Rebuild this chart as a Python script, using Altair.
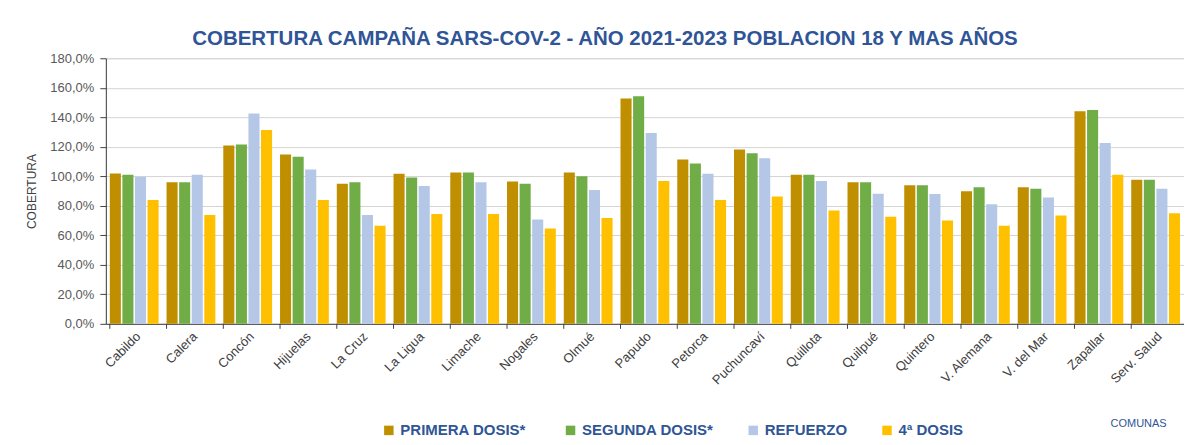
import altair as alt
import pandas as pd

comunas = ["Cabildo", "Calera", "Concón", "Hijuelas", "La Cruz", "La Ligua", "Limache",
           "Nogales", "Olmué", "Papudo", "Petorca", "Puchuncaví", "Quillota", "Quilpué",
           "Quintero", "V. Alemana", "V. del Mar", "Zapallar", "Serv. Salud"]
series = ["PRIMERA  DOSIS*", "SEGUNDA DOSIS*", "REFUERZO", "4ª DOSIS"]
colors = ["#BF8F00", "#70AD47", "#B4C7E7", "#FFC000"]

primera = [101.9, 95.9, 120.9, 114.8, 95.0, 101.7, 102.6, 96.5, 102.6, 152.7, 111.4, 118.1,
           101.0, 95.9, 94.0, 89.8, 92.5, 144.1, 97.6]
segunda = [101.0, 95.9, 121.6, 113.2, 95.9, 99.2, 102.6, 95.0, 100.1, 154.3, 108.7, 115.7,
           101.0, 95.9, 94.0, 92.5, 91.6, 145.0, 97.6]
refuerzo = [99.7, 101.0, 142.5, 104.6, 73.7, 93.4, 95.9, 70.8, 90.7, 129.4, 101.7, 112.3,
            96.8, 88.2, 88.0, 81.0, 85.7, 122.5, 91.5]
cuarta = [83.9, 73.7, 131.3, 83.9, 66.5, 74.4, 74.4, 64.7, 71.7, 96.8, 83.9, 86.3,
          76.9, 72.6, 70.0, 66.5, 73.5, 101.0, 75.0]

rows = []
for s, vals in zip(series, [primera, segunda, refuerzo, cuarta]):
    for c, v in zip(comunas, vals):
        rows.append({"comuna": c, "serie": s, "valor": v})
df = pd.DataFrame(rows)

FONT = "Liberation Sans Narrow, Liberation Sans, sans-serif"
BLUE = "#2F5597"

xscale = alt.Scale(domain=comunas, paddingInner=0.14, paddingOuter=0.07)

bars = alt.Chart(df).mark_bar().encode(
    x=alt.X("comuna:N", sort=comunas, scale=xscale,
            axis=alt.Axis(title="COMUNAS", labelAngle=-45, labelFontSize=13, labelColor="#404040",
                          labelFont=FONT, ticks=False, domainColor="#404040", labelPadding=6,
                          titleFont=FONT, titleFontSize=11, titleFontWeight="normal", titleColor=BLUE,
                          titleX=1034, titleY=100, titleAlign="center", titleBaseline="middle")),
    xOffset=alt.XOffset("serie:N", sort=series, scale=alt.Scale(paddingInner=0.12)),
    y=alt.Y("valor:Q", scale=alt.Scale(domain=[0, 180]),
            axis=alt.Axis(title="COBERTURA", values=list(range(0, 181, 20)),
                          labelExpr="replace(format(datum.value, '.1f'), '.', ',') + '%'",
                          labelFont=FONT, labelFontSize=13, labelColor="#595959",
                          gridColor="#D4D4D4", domainColor="#404040", tickColor="#404040",
                          tickSize=6, labelPadding=6,
                          titleFont=FONT, titleFontSize=12, titleFontWeight="normal",
                          titleColor="#404040", titleX=-74, titleY=133, titleAngle=-90,
                          titleAlign="center", titleBaseline="middle")),
    color=alt.Color("serie:N", sort=series, scale=alt.Scale(domain=series, range=colors),
                    legend=alt.Legend(title=None, orient="none", legendX=276, legendY=365,
                                      direction="horizontal", columns=4, symbolType="square",
                                      symbolSize=90, symbolStrokeWidth=0, labelFont=FONT,
                                      labelFontSize=15, labelFontWeight="bold", labelColor=BLUE,
                                      columnPadding=32, labelOffset=4)),
)

ticks = alt.Chart(pd.DataFrame({"comuna": comunas})).mark_rule(color="#404040").encode(
    x=alt.X("comuna:N", sort=comunas, scale=xscale, bandPosition=0),
    y=alt.value(266),
    y2=alt.value(271),
)

chart = alt.layer(bars, ticks).properties(
    width=1080, height=266,
    title=alt.TitleParams("COBERTURA CAMPAÑA SARS-COV-2  - AÑO 2021-2023 POBLACION 18 Y MAS AÑOS",
                          font=FONT, fontSize=20.5, fontWeight="bold", color=BLUE,
                          anchor="middle", dx=-40, offset=3),
    autosize=alt.AutoSizeParams(type="none"),
    padding={"left": 98, "top": 50, "right": 0, "bottom": 113},
).configure_view(fill="#EDEDED", stroke=None).configure(background="white")

chart.save("out.html", embed_options={"renderer": "svg", "actions": False})
